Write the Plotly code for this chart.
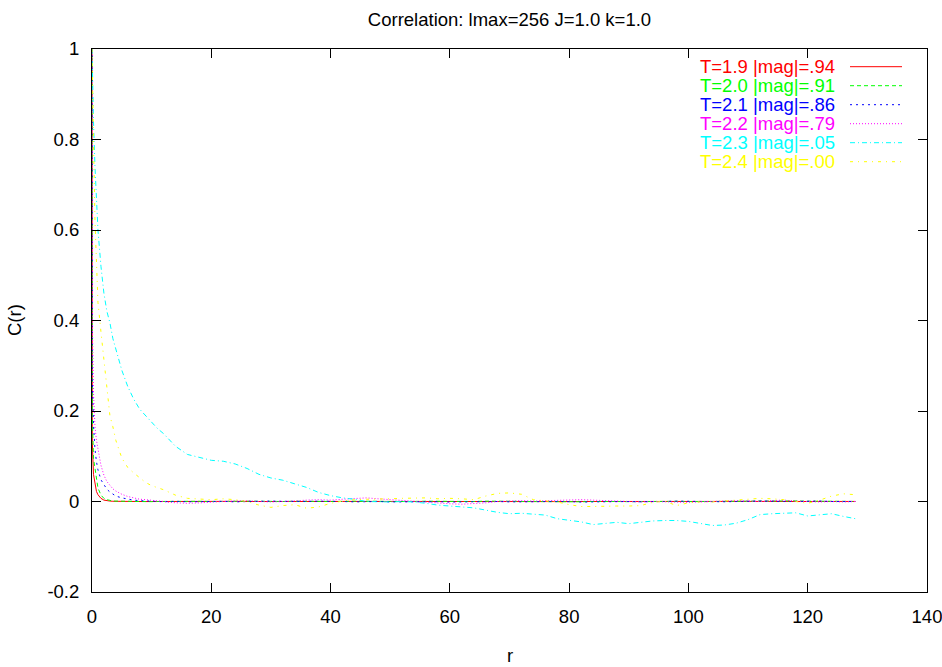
import plotly.graph_objects as go

# ---------------- data ----------------
r = [0, 0.05, 0.25, 0.5, 0.75, 1, 1.5, 2, 2.5, 3, 3.5,
     4, 5, 6, 7, 8, 9, 10, 11, 12, 13, 14,
     16, 18, 20, 22, 24, 26, 28, 30, 32, 34, 36, 38, 40, 42, 44, 46, 48, 50,
     52, 54, 56, 58, 60, 62, 64, 66, 68, 70, 72, 74, 76, 78, 80, 82, 84, 86,
     88, 90, 92, 94, 96, 98, 100, 102, 104, 106, 108, 110, 112, 114, 116, 118,
     120, 122, 124, 126, 128]

c_t19 = [1.0, 0.13, 0.06, 0.036, 0.022, 0.015, 0.007, 0.003, 0.0015, 0.001, 0.0005,
         0.0003, 0.0002, 0.0, 0.0001, 0.0, -0.0001, 0.0, 0.0001, 0.0, 0.0, 0.0001,
         0.0, 0.0002, -0.0002, 0.0, 0.0003, 0.0, -0.0002, 0.0001, 0.0, 0.0002, 0.0,
         -0.0001, 0.0, 0.0002, 0.0001, 0.0, -0.0002, 0.0, 0.0001, 0.0, 0.0002, 0.0,
         -0.0001, 0.0, 0.0001, 0.0002, 0.0, -0.0001, 0.0, 0.0001, 0.0, 0.0, -0.0002,
         0.0, 0.0001, 0.0, 0.0002, 0.0, -0.0001, 0.0, 0.0001, 0.0, 0.0, 0.0002,
         0.0, -0.0001, 0.0, 0.0001, 0.0, 0.0002, 0.0, -0.0001, 0.0, 0.0001, 0.0,
         0.0, 0.0001]

c_t20 = [1.0, 0.19, 0.095, 0.072, 0.045, 0.03, 0.014, 0.007, 0.004, 0.002, 0.001,
         0.0008, 0.0004, 0.0002, 0.0, 0.0003, 0.0, -0.0003, 0.0, 0.0002, 0.0, -0.0002,
         0.0, 0.0004, 0.0, -0.0005, 0.0003, 0.0008, 0.0, -0.0004, 0.0, 0.0006, 0.0003,
         0.0, -0.0006, 0.0, 0.0005, 0.001, 0.0004, 0.0, -0.0005, 0.0, 0.0006, 0.0003,
         0.0, -0.0004, 0.0, 0.0007, 0.0012, 0.0005, 0.0, -0.0003, 0.0, 0.0004, 0.0,
         -0.0006, 0.0, 0.0005, 0.0, -0.0004, 0.0, 0.0006, 0.0012, 0.0004, 0.0, -0.0005,
         0.0, 0.0003, 0.0006, 0.0, -0.0004, 0.0, 0.0008, 0.0014, 0.0006, 0.0, -0.0003,
         0.0004, 0.0]

c_t21 = [1.0, 0.27, 0.17, 0.115, 0.088, 0.07, 0.048, 0.036, 0.027, 0.021, 0.017,
         0.012, 0.008, 0.005, 0.003, 0.002, 0.001, 0.0005, 0.0, -0.0005, 0.0, 0.0004,
         -0.0006, 0.0, 0.0008, 0.0003, -0.0008, 0.0, 0.0006, 0.001, 0.0004, -0.0005, 0.0,
         0.0008, 0.0012, 0.0, -0.0008, 0.0004, 0.0, -0.0010, -0.0006, 0.0, 0.0005, -0.0004,
         -0.0012, -0.0006, 0.0, 0.0006, 0.0, -0.0008, -0.0014, -0.0006, 0.0, 0.0004, -0.0004,
         -0.0012, -0.0008, 0.0, 0.0006, 0.0, -0.0006, -0.0010, 0.0, 0.0008, 0.0004, -0.0005,
         -0.0012, -0.0006, 0.0, 0.0008, 0.0012, 0.0004, -0.0006, 0.0, 0.0006, 0.0012, 0.0,
         -0.0006, 0.0]

c_t22 = [1.0, 0.40, 0.24, 0.165, 0.135, 0.113, 0.08, 0.058, 0.044, 0.036, 0.028,
         0.023, 0.016, 0.011, 0.008, 0.005, 0.004, 0.003, 0.002, 0.0, -0.002, -0.003,
         -0.004, -0.003, -0.001, 0.0, 0.001, 0.002, 0.0, -0.001, 0.0, 0.002, 0.003,
         0.004, 0.003, 0.005, 0.007, 0.008, 0.006, 0.004, 0.003, 0.0, -0.002, -0.004,
         -0.005, -0.006, -0.005, -0.003, 0.0, 0.001, 0.002, 0.001, 0.002, 0.003, 0.003,
         0.004, 0.003, 0.002, 0.001, 0.0, -0.001, 0.0, -0.001, -0.002, -0.002, -0.001,
         0.0, 0.001, 0.002, 0.001, 0.0, 0.002, 0.003, 0.001, 0.0, -0.001, 0.0,
         -0.001, 0.0]

c_t23 = [1.0, 0.96, 0.84, 0.74, 0.66, 0.60, 0.52, 0.46, 0.42, 0.395, 0.36,
         0.335, 0.29, 0.254, 0.226, 0.204, 0.189, 0.175, 0.161, 0.150, 0.137, 0.122,
         0.104, 0.097, 0.091, 0.089, 0.083, 0.073, 0.060, 0.052, 0.047, 0.039, 0.031,
         0.020, 0.013, 0.008, 0.005, 0.000, -0.001, -0.001, 0.000, -0.001, -0.004, -0.008,
         -0.010, -0.012, -0.014, -0.019, -0.024, -0.027, -0.026, -0.028, -0.030, -0.038, -0.042,
         -0.045, -0.051, -0.049, -0.046, -0.049, -0.046, -0.043, -0.042, -0.042, -0.044, -0.048,
         -0.053, -0.052, -0.048, -0.040, -0.029, -0.027, -0.026, -0.025, -0.032, -0.030, -0.027,
         -0.033, -0.038]

c_t24 = [1.0, 0.93, 0.80, 0.62, 0.52, 0.44, 0.375, 0.31, 0.24, 0.19, 0.165,
         0.135, 0.096, 0.075, 0.063, 0.052, 0.042, 0.035, 0.031, 0.026, 0.020, 0.014,
         0.007, 0.005, 0.004, 0.006, 0.004, 0.000, -0.008, -0.013, -0.009, -0.007, -0.015,
         -0.012, -0.004, 0.001, 0.004, 0.005, 0.005, 0.006, 0.007, 0.008, 0.008, 0.006,
         0.007, 0.006, 0.004, 0.012, 0.018, 0.019, 0.016, 0.004, 0.001, -0.001, -0.007,
         -0.011, -0.011, -0.010, -0.010, -0.010, -0.009, -0.002, 0.001, -0.009, -0.003, -0.001,
         -0.001, 0.001, 0.003, 0.006, 0.007, 0.006, 0.004, 0.000, -0.004, 0.003, 0.012,
         0.017, 0.015]

series_names = ["T=1.9 |mag|=.94", "T=2.0 |mag|=.91", "T=2.1 |mag|=.86",
                "T=2.2 |mag|=.79", "T=2.3 |mag|=.05", "T=2.4 |mag|=.00"]
series_values = [c_t19, c_t20, c_t21, c_t22, c_t23, c_t24]

x_tick_vals = [0, 20, 40, 60, 80, 100, 120, 140]
x_tick_text = ["0", "20", "40", "60", "80", "100", "120", "140"]
y_tick_vals = [-0.2, 0, 0.2, 0.4, 0.6, 0.8, 1]
y_tick_text = ["-0.2", "0", "0.2", "0.4", "0.6", "0.8", "1"]

# ---------------- styles ----------------
colors = ["#ff0000", "#00ff00", "#0000ff", "#ff00ff", "#00ffff", "#ffff00"]
dashes = ["solid", "4px,3px", "2px,4px", "1px,2px", "5px,3px,1px,3px", "3px,5px,1px,5px"]

W, H = 942, 667
ML, MR, MT, MB = 92, 15, 49, 75
PW, PH = W - ML - MR, H - MT - MB
FONT = "Liberation Sans, Arial, Helvetica, sans-serif"
FS = 18.5

fig = go.Figure()
for name, vals, col, dsh in zip(series_names, series_values, colors, dashes):
    fig.add_trace(go.Scatter(x=r, y=vals, mode="lines", name=name,
                             line=dict(color=col, width=1, dash=dsh),
                             showlegend=False))

# gnuplot-style key: text right-aligned, sample line to its right
annotations = []
shapes = []
key_text_right = 836.7
key_row0 = 66.7
key_row_step = 19.0
key_line_x0, key_line_x1 = 850, 902
for i, (name, col, dsh) in enumerate(zip(series_names, colors, dashes)):
    ypx = key_row0 + i * key_row_step
    yp = (H - MB - ypx) / PH
    annotations.append(dict(text=name, xref="paper", yref="paper",
                            x=(key_text_right - ML) / PW, y=yp,
                            xanchor="right", yanchor="middle", showarrow=False,
                            font=dict(family=FONT, size=FS, color=col)))
    shapes.append(dict(type="line", xref="paper", yref="paper",
                       x0=(key_line_x0 - ML) / PW, x1=(key_line_x1 - ML) / PW,
                       y0=yp, y1=yp, line=dict(color=col, width=1, dash=dsh)))

annotations.append(dict(text="r", xref="paper", yref="paper", x=0.5, y=0,
                        xanchor="center", yanchor="middle", yshift=-63,
                        showarrow=False, font=dict(family=FONT, size=FS, color="black")))
annotations.append(dict(text="C(r)", xref="paper", yref="paper", x=0, y=0.5,
                        xanchor="center", yanchor="middle", xshift=-(ML - 14.5),
                        textangle=-90, showarrow=False,
                        font=dict(family=FONT, size=FS, color="black")))

axis_common = dict(showgrid=False, zeroline=False, showline=True, linecolor="black",
                   linewidth=1, mirror="allticks", ticks="inside", ticklen=9,
                   tickcolor="black", tickwidth=1, ticklabeloverflow="allow",
                   automargin=False,
                   tickfont=dict(family=FONT, size=FS, color="black"))

fig.update_layout(
    width=W, height=H,
    margin=dict(l=ML, r=MR, t=MT, b=MB, autoexpand=False),
    paper_bgcolor="white", plot_bgcolor="white",
    title=dict(text="Correlation: lmax=256 J=1.0 k=1.0", x=0.5, xref="paper",
               xanchor="center", y=1 - 20 / H, yref="container", yanchor="middle",
               font=dict(family=FONT, size=FS, color="black")),
    xaxis=dict(range=[0, 140], tickmode="array", tickvals=x_tick_vals,
               ticktext=x_tick_text, ticklabelstandoff=8, **axis_common),
    yaxis=dict(range=[-0.2, 1], tickmode="array", tickvals=y_tick_vals,
               ticktext=y_tick_text, ticklabelstandoff=8, **axis_common),
    annotations=annotations, shapes=shapes,
    showlegend=False,
)

fig.write_html("out.html",
               config={"displayModeBar": False},
               post_script="document.body.style.margin='0';"
                           "document.body.style.overflow='hidden';")
